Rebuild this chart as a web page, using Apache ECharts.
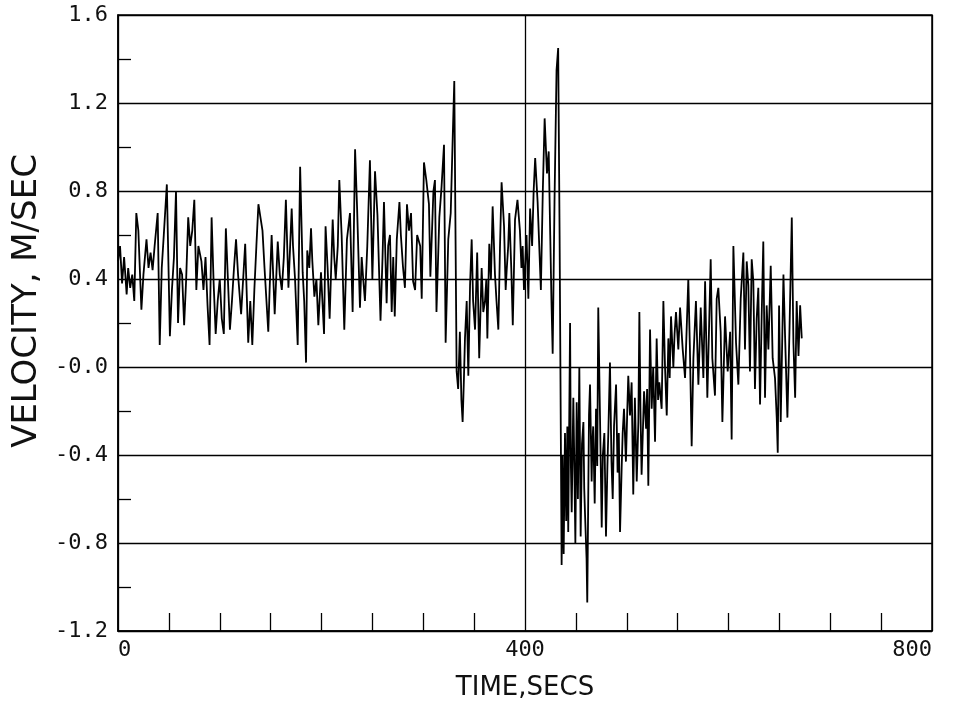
<!DOCTYPE html>
<html>
<head>
<meta charset="utf-8">
<title>Velocity vs time</title>
<script src="https://cdn.jsdelivr.net/npm/echarts@6/dist/echarts.min.js"></script>
<style>
  html, body { margin: 0; padding: 0; background: #fff; }
  #chart { width: 959px; height: 712px; }
</style>
</head>
<body>
<div id="chart"></div>
<script>
// tick labels as printed on the plot
var xTickLabels = ['0', '400', '800'];
var yTickLabels = ['-1.2', '-0.8', '-0.4', '-0.0', '0.4', '0.8', '1.2', '1.6'];

// [time (s), velocity (m/s)]
var firstRun = [
  [0,0.48],[2,0.55],[4,0.38],[6,0.5],[8.5,0.33],[10,0.45],[12,0.36],[14,0.42],[16,0.3],[18,0.7],
  [20,0.62],[23,0.26],[25,0.42],[28,0.58],[30,0.45],[32,0.52],[34,0.44],[36,0.55],[39,0.7],[41,0.1],
  [43,0.45],[45,0.6],[48,0.83],[51,0.14],[53,0.35],[55,0.5],[57,0.8],[59,0.2],[61,0.45],[63,0.42],
  [65,0.19],[67,0.4],[69,0.68],[71,0.55],[73,0.62],[75,0.76],[77,0.35],[79,0.55],[82,0.48],[84,0.35],
  [86,0.5],[88,0.28],[90,0.1],[92,0.68],[94,0.38],[96,0.15],[98,0.3],[100,0.4],[102,0.22],[104,0.15],
  [106,0.63],[108,0.4],[110,0.17],[112,0.3],[114,0.45],[116,0.58],[118,0.42],[121,0.24],[123,0.4],[125,0.56],
  [128,0.11],[130,0.3],[132,0.1],[134,0.35],[136,0.55],[138,0.74],[140,0.68],[142,0.62]
];
var secondRun = [
  [144,0.45],[147.7,0.16],[149,0.35],[151,0.6],[154,0.24],[157,0.57],[159,0.42],[161,0.35],[163,0.5],[165,0.76],
  [167.5,0.36],[170.7,0.72],[172,0.55],[174,0.4],[176.6,0.1],[179,0.91],[181.5,0.43],[183,0.3],[184.8,0.02],[186,0.53],
  [188,0.45],[189.7,0.63],[191,0.48],[193,0.32],[195,0.4],[196.9,0.19],[199.5,0.43],[202.5,0.15],[204,0.64],[206,0.45],
  [208,0.22],[211,0.67],[212.5,0.5],[214,0.4],[216,0.55],[217.5,0.85],[219.8,0.6],[222.4,0.17],[225,0.58],[228,0.7],
  [230.6,0.25],[233,0.99],[235,0.72],[237.8,0.27],[239.5,0.5],[241,0.4],[242.7,0.3],[245,0.55],[247.6,0.94],[250,0.4],
  [252.6,0.89],[255,0.69],[258,0.21],[260,0.5],[261.4,0.75],[264,0.29],[265.5,0.55],[267.3,0.6],[269,0.25],[270.5,0.5],
  [272,0.23],[274,0.58],[276.6,0.75],[278,0.6],[280,0.46],[282,0.36],[284,0.74]
];
var thirdRun = [
  [286,0.62],[288,0.7],[290,0.39],[292,0.35],[294,0.6],[297,0.55],[298.5,0.31],[300.7,0.93],[303,0.85],[305.6,0.74],
  [307,0.41],[310,0.8],[311.5,0.85],[313,0.25],[315.8,0.68],[318,0.82],[320.4,1.01],[322,0.11],[324.6,0.58],[327,0.7],
  [329,1.05],[330.5,1.3],[332.8,-0.02]
];
var fourthRun = [
  [334.3,-0.1],[336,0.16],[337.5,-0.15],[338.7,-0.25],[340,-0.05],[341,0.13],[342.7,0.3],[344.3,-0.04],[346,0.37],[347.6,0.58],
  [349,0.3],[350.9,0.17],[353,0.52],[355,0.04],[357.4,0.45],[359,0.25],[360.7,0.3],[362,0.4],[363,0.13],[364.9,0.56],
  [366.5,0.4],[368.2,0.73],[370.5,0.42],[372,0.3],[373.8,0.17],[375.4,0.54],[377,0.84],[379.4,0.64],[381,0.35],[382,0.44],
  [383.5,0.55],[384.6,0.7],[386.5,0.45],[388,0.19],[390.2,0.67],[392.6,0.76],[395,0.62],[396.5,0.45],[397.7,0.55],[399,0.35],
  [400,0.45],[401.5,0.6],[403.3,0.31],[405,0.72],[407,0.55],[408.5,0.8],[410,0.95],[412.4,0.75],[414,0.55],[415.6,0.35],
  [417.5,0.8],[419.3,1.13],[421.6,0.88],[423.3,0.98],[424.8,0.6],[426,0.3],[427.2,0.06],[429,0.75],[431,1.35],[432.6,1.45],
  [434,0.6],[436,-0.9]
];
var fifthRun = [
  [437,-0.4],[438,-0.85],[439.3,-0.3],[440.5,-0.7],[441.6,-0.27],[442.5,-0.75],[444.3,0.2],[445.1,-0.45],[445.9,-0.66],[447.5,-0.14],
  [448.5,-0.45],[449.5,-0.8],[450.8,-0.16],[452,-0.6],[453.4,0.0],[454.7,-0.77],[456,-0.35],[457.4,-0.25],[458.2,-0.55],[459,-0.67],
  [460.5,-0.87],[461.2,-1.07],[462.9,-0.22],[463.9,-0.08],[465.5,-0.52],[466.2,-0.35],[467,-0.27],[468.5,-0.62],[469.8,-0.19],[471,-0.45],
  [472,0.27],[473.7,-0.22],[475.4,-0.73],[476.5,-0.4],[478,-0.3],[479.6,-0.77],[481,-0.45],[482,-0.28],[483.5,0.02],[485,-0.43],
  [486.2,-0.6],[487.5,-0.27],[489.5,-0.08],[491,-0.48],[492.2,-0.3],[493.4,-0.75],[495,-0.46],[496,-0.3],[497.3,-0.19],[499.2,-0.43],
  [500.5,-0.2],[501.5,-0.04],[503.2,-0.22],[504.8,-0.07],[506.4,-0.58],[508,-0.14],[509.8,-0.52],[511.4,-0.25],[512.4,0.25],[513.5,-0.2],
  [514.6,-0.49],[517,-0.11],[519,-0.28],[520,-0.1],[521.2,-0.54],[522.9,0.17],[524.5,-0.19],[526,0.0],[527.8,-0.34],[529.4,0.13],
  [530.8,-0.15],[532,-0.07],[534.3,-0.19],[536,0.3],[537.6,0.0],[539.3,-0.22],[540.9,0.13],[542.2,-0.05],[543.5,0.23],[545.8,0.0],
  [547,0.15],[548.4,0.25],[550.7,0.08]
];
var lastRun = [
  [552.4,0.27],[555,0.08],[557.3,-0.05],[560.5,0.4],[562,0.1],[563.8,-0.36],[565.5,0.04],[568,0.3],[570.4,-0.08],[572.7,0.27],
  [575.3,-0.05],[577,0.39],[579.2,-0.14],[581,0.2],[582.5,0.49],[584.1,0.04],[586.7,-0.13],[588.4,0.31],[590,0.36],[592.3,0.16],
  [594,-0.25],[596.6,0.23],[599.2,-0.02],[601.6,0.16],[603.1,-0.33],[604.8,0.55],[607.4,0.11],[609.7,-0.08],[612,0.31],[614.6,0.52],
  [616.2,0.08],[617.9,0.48],[619.5,0.37],[621.1,-0.02],[622.8,0.49],[624.4,0.39],[626,-0.1],[627.7,0.22],[629.3,0.36],[631,-0.17],
  [632.6,0.23],[634.2,0.57],[635.9,-0.14],[637.5,0.28],[639.2,0.08],[641.5,0.46],[643.4,0.04],[645.7,-0.05],[647.4,-0.23],[648.4,-0.39],
  [649.7,0.28],[651.3,-0.25],[654,0.42],[655.6,0.14],[657.9,-0.23],[659.9,0.16],[662.2,0.68],[663.8,0.11],[665.5,-0.14],[667,0.3],
  [668.8,0.05],[670.4,0.28],[672,0.13]
];

var samples = firstRun.concat(secondRun, thirdRun, fourthRun, fifthRun, lastRun);

var xMin = 0, xMax = 800, xStep = 400;
var yMin = -1.2, yMax = 1.6, yStep = 0.4;

var monoFont = "'DejaVu Sans Mono', 'Liberation Mono', monospace";
var titleFont = "'DejaVu Sans', 'Liberation Sans', sans-serif";

var chart = echarts.init(document.getElementById('chart'));
chart.setOption({
  animation: false,
  backgroundColor: '#fff',
  grid: {
    left: 118,
    right: 27,
    top: 15,
    bottom: 81,
    show: true,
    borderColor: '#000',
    borderWidth: 1.5
  },
  xAxis: {
    type: 'value',
    min: xMin,
    max: xMax,
    interval: xStep,
    name: 'TIME,SECS',
    nameLocation: 'middle',
    nameGap: 44,
    nameTextStyle: { fontFamily: titleFont, fontSize: 26, color: '#111' },
    axisLine: { show: true, onZero: false, lineStyle: { color: '#000', width: 1.5 } },
    axisTick: { show: false },
    minorTick: { show: true, splitNumber: 8, length: -18, lineStyle: { color: '#000', width: 1.3 } },
    splitLine: { show: true, lineStyle: { color: '#000', width: 1.3 } },
    axisLabel: {
      fontFamily: monoFont,
      fontSize: 22,
      color: '#111',
      margin: 8,
      alignMinLabel: 'left',
      alignMaxLabel: 'right',
      formatter: function (v) { return xTickLabels[Math.round((v - xMin) / xStep)]; }
    }
  },
  yAxis: {
    type: 'value',
    min: yMin,
    max: yMax,
    interval: yStep,
    name: 'VELOCITY, M/SEC',
    nameLocation: 'middle',
    nameGap: 74,
    nameTextStyle: { fontFamily: titleFont, fontSize: 34, color: '#111', padding: [0, 0, 0, 44] },
    axisLine: { show: true, onZero: false, lineStyle: { color: '#000', width: 1.5 } },
    axisTick: { show: false },
    minorTick: { show: true, splitNumber: 2, length: -13, lineStyle: { color: '#000', width: 1.3 } },
    splitLine: { show: true, lineStyle: { color: '#000', width: 1.3 } },
    axisLabel: {
      fontFamily: monoFont,
      fontSize: 22,
      color: '#111',
      margin: 10,
      formatter: function (v) { return yTickLabels[Math.round((v - yMin) / yStep)]; }
    }
  },
  series: [
    {
      type: 'line',
      data: samples,
      symbol: 'none',
      lineStyle: { color: '#000', width: 1.8 }
    }
  ]
});
</script>
</body>
</html>
